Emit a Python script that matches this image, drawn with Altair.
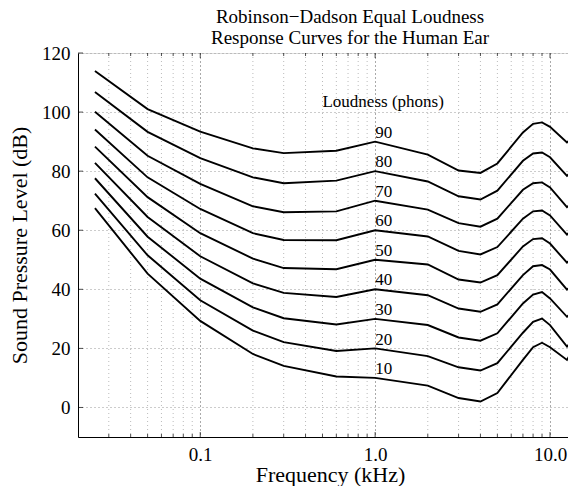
import altair as alt
import pandas as pd

# ---- data ----
freqs_khz = [0.025, 0.05, 0.1, 0.2, 0.3, 0.6, 1.0, 2.0, 3.0, 4.0, 5.0, 7.0, 8.0, 9.0, 10.0, 12.5, 15.0]
phons = [90, 80, 70, 60, 50, 40, 30, 20, 10]
spl_90 = [113.9, 101.0, 93.4, 87.7, 86.1, 86.9, 90.0, 85.6, 80.2, 79.4, 82.6, 93.1, 96.0, 96.5, 95.0, 89.7, 94.0]
spl_80 = [106.8, 93.3, 84.4, 77.9, 75.9, 76.8, 80.0, 76.5, 71.5, 70.4, 73.4, 83.5, 86.0, 86.3, 84.7, 78.4, 83.0]
spl_70 = [100.1, 85.2, 75.7, 68.1, 66.1, 66.4, 70.0, 67.0, 62.4, 61.2, 63.9, 73.7, 75.9, 76.2, 74.5, 67.8, 72.0]
spl_60 = [94.1, 77.9, 67.2, 59.0, 56.7, 56.6, 60.0, 57.9, 53.0, 51.8, 54.3, 63.9, 66.4, 66.7, 65.0, 58.5, 63.0]
spl_50 = [88.3, 71.2, 59.0, 50.4, 47.2, 46.8, 50.0, 48.4, 43.3, 42.3, 44.8, 54.5, 57.0, 57.3, 55.5, 49.0, 53.0]
spl_40 = [82.8, 64.5, 51.2, 42.0, 38.8, 37.4, 40.0, 38.0, 33.5, 32.4, 34.9, 44.8, 47.8, 48.2, 46.7, 39.9, 44.0]
spl_30 = [77.6, 57.8, 43.6, 33.9, 30.2, 28.1, 30.0, 27.9, 23.7, 22.6, 25.1, 35.2, 38.2, 39.1, 36.9, 30.7, 35.0]
spl_20 = [72.4, 51.5, 36.3, 26.0, 22.1, 19.1, 20.0, 17.4, 13.6, 12.5, 15.0, 25.3, 29.0, 30.1, 27.9, 20.6, 26.0]
spl_10 = [67.5, 45.3, 29.3, 18.1, 14.1, 10.5, 10.0, 7.4, 3.2, 2.0, 4.9, 16.1, 20.4, 21.9, 20.4, 16.1, 24.0]
series = [spl_90, spl_80, spl_70, spl_60, spl_50, spl_40, spl_30, spl_20, spl_10]

x_major_ticks = [0.1, 1.0, 10.0]
x_minor_grid = [0.03, 0.04, 0.05, 0.06, 0.07, 0.08, 0.09,
                0.2, 0.3, 0.4, 0.5, 0.6, 0.7, 0.8, 0.9,
                2, 3, 4, 5, 6, 7, 8, 9]
y_ticks = [0, 20, 40, 60, 80, 100, 120]
x_domain = [0.02, 12.67]
y_domain = [-10, 120]

label_freq = 1.0
legend_title = "Loudness (phons)"
legend_freq = 0.5
legend_level = 101.8

rows = []
for p, vals in zip(phons, series):
    for f, v in zip(freqs_khz, vals):
        rows.append({"freq": f, "level": v, "phon": p})
df = pd.DataFrame(rows)

lab_df = pd.DataFrame({"freq": [label_freq] * len(phons),
                       "level": [p + 1.3 for p in phons],
                       "txt": [str(p) for p in phons]})
leg_df = pd.DataFrame({"freq": [legend_freq], "level": [legend_level], "txt": [legend_title]})
major_df = pd.DataFrame({"freq": x_major_ticks})
minor_df = pd.DataFrame({"freq": x_minor_grid})
ytick_df = pd.DataFrame({"level": y_ticks})

FONT = "Liberation Serif"
xscale = alt.Scale(type="log", domain=x_domain, nice=False)
yscale = alt.Scale(domain=y_domain, nice=False, zero=False)

x_axis = alt.Axis(values=x_major_ticks, format=".1f", title="Frequency (kHz)",
                  grid=True, gridColor="#555", gridDash=[1, 3], gridWidth=1,
                  ticks=False, labelFont=FONT, labelFontSize=19, labelColor="black",
                  labelPadding=8, titleFont=FONT, titleFontSize=22, titleFontWeight="normal",
                  titleColor="black", titleBaseline="alphabetic", titleY=44, titleX=252,
                  domainColor="black", labelFlush=False)
y_axis = alt.Axis(values=y_ticks, title="Sound Pressure Level (dB)",
                  grid=True, gridColor="#999", gridDash=[1, 3], gridWidth=1,
                  ticks=False, labelFont=FONT, labelFontSize=19, labelColor="black",
                  labelPadding=8, titleFont=FONT, titleFontSize=22, titleFontWeight="normal",
                  titleColor="black", titleX=-59, titleBaseline="middle",
                  domainColor="black")

X = lambda: alt.X("freq:Q", scale=xscale, axis=x_axis, title="Frequency (kHz)")
Y = lambda: alt.Y("level:Q", scale=yscale, axis=y_axis, title="Sound Pressure Level (dB)")

minor_grid = alt.Chart(minor_df).mark_rule(color="#bbb", strokeDash=[1, 3], strokeWidth=1).encode(
    x=X(),
)

lines = alt.Chart(df).mark_line(color="black", strokeWidth=1.9, clip=True).encode(
    x=X(), y=Y(), detail="phon:N", order="freq:Q",
)

labels = alt.Chart(lab_df).mark_text(align="left", baseline="alphabetic", font=FONT,
                                     fontSize=17, color="black").encode(
    x=X(), y=Y(), text="txt:N",
)

legend = alt.Chart(leg_df).mark_text(align="left", baseline="alphabetic", font=FONT,
                                     fontSize=17, color="black").encode(
    x=X(), y=Y(), text="txt:N",
)

# inward tick marks on the frame
def xticks(data, size, at, off):
    return alt.Chart(data).mark_tick(orient="vertical", size=size, thickness=1,
                                     color="black", yOffset=off).encode(
        x=X(),
        y=alt.YDatum(at, scale=yscale, axis=y_axis, title="Sound Pressure Level (dB)"),
    )

bot_major = xticks(major_df, 5, y_domain[0], -2.5)
bot_minor = xticks(minor_df, 3, y_domain[0], -1.5)
top_major = xticks(major_df, 5, y_domain[1], 2.5)
top_minor = xticks(minor_df, 3, y_domain[1], 1.5)
left_ticks = alt.Chart(ytick_df).mark_tick(orient="horizontal", size=5, thickness=1,
                                           color="black", xOffset=2.5).encode(
    x=alt.XDatum(x_domain[0], scale=xscale, axis=x_axis, title="Frequency (kHz)"),
    y=Y(),
)

chart = alt.layer(minor_grid, lines, labels, legend, bot_major, bot_minor, top_major,
                  top_minor, left_ticks).properties(
    width=490, height=384,
    autosize=alt.AutoSizeParams(type="none"),
    padding={"left": 70, "top": 45, "right": 0, "bottom": 49},
    title=alt.Title(["Robinson\u2212Dadson Equal Loudness", "Response Curves for the Human Ear"],
                    font=FONT, fontSize=19, fontWeight="normal", color="black",
                    anchor="middle", dx=27, dy=10, offset=6, lineHeight=21),
).configure_view(stroke="black", strokeWidth=1).configure(background="white")

chart.save("out.html", embed_options={"renderer": "svg", "actions": False})
